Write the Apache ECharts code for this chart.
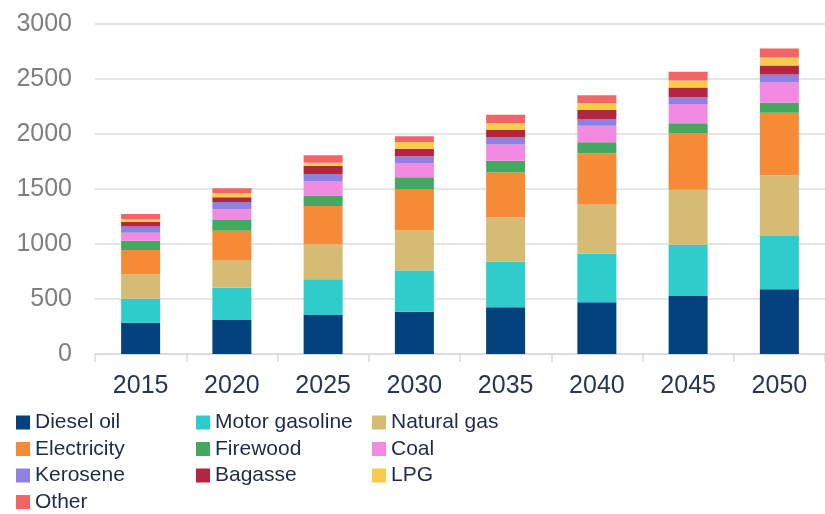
<!DOCTYPE html>
<html>
<head>
<meta charset="utf-8">
<script src="https://cdn.jsdelivr.net/npm/echarts@6/dist/echarts.min.js"></script>
<style>
  html, body { margin: 0; padding: 0; background: #ffffff; }
  #chart { width: 825px; height: 514px; }
</style>
</head>
<body>
<div id="chart"></div>
<script>
// Final energy demand by fuel, stacked per year
const years = ['2015', '2020', '2025', '2030', '2035', '2040', '2045', '2050'];
const yTicks = [0, 500, 1000, 1500, 2000, 2500, 3000];

const dieselOil      = [285, 309, 355, 385, 424, 470, 527, 588];
const motorGasoline  = [218, 294, 324, 373, 415, 442, 467, 485];
const naturalGas     = [222, 252, 321, 364, 403, 448, 500, 551];
const electricity    = [220, 266, 345, 379, 409, 464, 512, 570];
const firewood       = [85, 97, 97, 106, 106, 100, 91, 91];
const coal           = [73, 97, 127, 130, 148, 152, 176, 185];
const kerosene       = [55, 67, 67, 61, 64, 61, 61, 70];
const bagasse        = [45, 43, 73, 69, 67, 82, 88, 82];
const lpg            = [24, 36, 30, 61, 61, 61, 64, 73];
const other          = [45, 45, 67, 52, 79, 73, 79, 82];

const fuels = [
  { name: 'Diesel oil',     data: dieselOil,     color: '#03417f' },
  { name: 'Motor gasoline', data: motorGasoline, color: '#2ecccb' },
  { name: 'Natural gas',    data: naturalGas,    color: '#d5bb73' },
  { name: 'Electricity',    data: electricity,   color: '#f58a37' },
  { name: 'Firewood',       data: firewood,      color: '#45a860' },
  { name: 'Coal',           data: coal,          color: '#f38ae2' },
  { name: 'Kerosene',       data: kerosene,      color: '#8f80e2' },
  { name: 'Bagasse',        data: bagasse,       color: '#b52441' },
  { name: 'LPG',            data: lpg,           color: '#f8cc4a' },
  { name: 'Other',          data: other,         color: '#f36467' }
];

const legendText = { fontFamily: 'Liberation Sans, Arial, sans-serif', fontSize: 21, color: '#1e2b4a' };
function legendColumn(names, left) {
  return {
    orient: 'vertical',
    left: left,
    top: 412,
    height: 110,
    itemWidth: 14,
    itemHeight: 14,
    itemGap: 5.5,
    icon: 'rect',
    padding: 0,
    textStyle: legendText,
    data: names,
    selectedMode: false
  };
}

const chart = echarts.init(document.getElementById('chart'), null, { renderer: 'canvas' });
chart.setOption({
  animation: false,
  backgroundColor: '#ffffff',
  grid: { left: 95, right: 0, top: 24, bottom: 160, containLabel: false },
  legend: [
    legendColumn(['Diesel oil', 'Electricity', 'Kerosene', 'Other'], 16),
    legendColumn(['Motor gasoline', 'Firewood', 'Bagasse'], 196),
    legendColumn(['Natural gas', 'Coal', 'LPG'], 372)
  ],
  xAxis: {
    type: 'category',
    data: years,
    axisLine: { lineStyle: { color: '#d9d9d9', width: 1.5 } },
    axisTick: { show: true, length: 8, lineStyle: { color: '#d9d9d9', width: 1.5 } },
    axisLabel: { fontFamily: 'Liberation Sans, Arial, sans-serif', fontSize: 25, color: '#2a3553', margin: 20 }
  },
  yAxis: {
    type: 'value',
    min: yTicks[0],
    max: yTicks[yTicks.length - 1],
    interval: yTicks[1] - yTicks[0],
    axisLine: { show: false },
    axisTick: { show: false },
    splitLine: { lineStyle: { color: '#dcdcdc', width: 1.5 } },
    axisLabel: {
      fontFamily: 'Liberation Sans, Arial, sans-serif',
      fontSize: 25,
      color: '#7f7f7f',
      margin: 23,
      formatter: v => String(v)
    }
  },
  series: fuels.map(f => ({
    name: f.name,
    type: 'bar',
    stack: 'total',
    barWidth: 39,
    data: f.data,
    itemStyle: { color: f.color }
  }))
});
</script>
</body>
</html>
